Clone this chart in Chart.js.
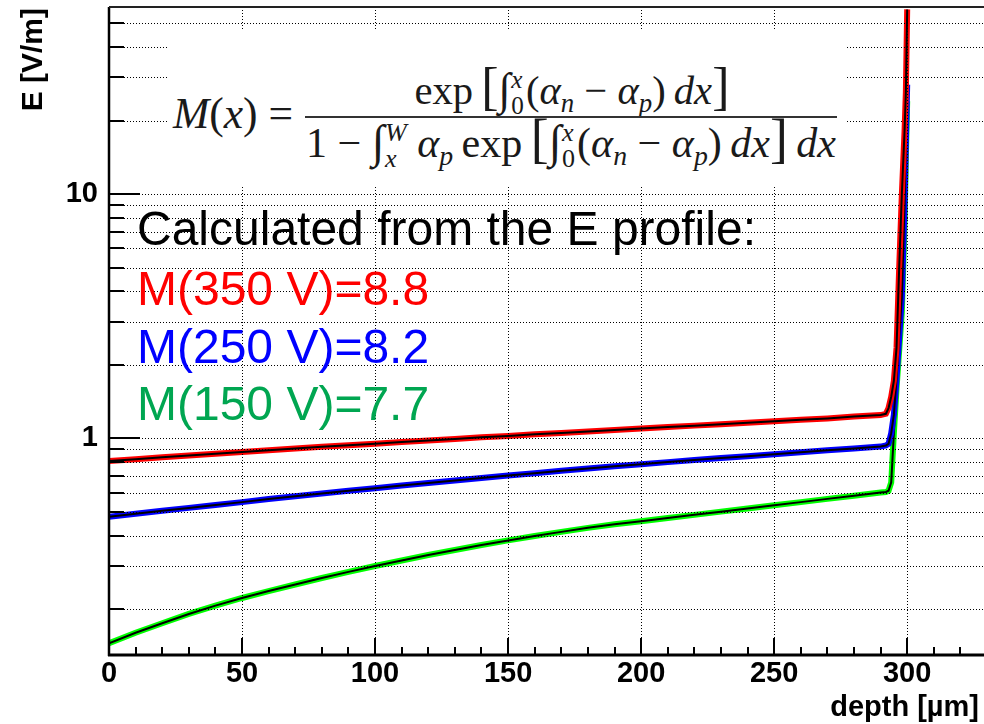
<!DOCTYPE html>
<html>
<head>
<meta charset="utf-8">
<script src="https://cdn.jsdelivr.net/npm/chart.js"></script>
<style>
  html, body { margin:0; padding:0; background:#fff; overflow:hidden; width:984px; height:724px; }
  #wrap { position:absolute; left:0; top:0; width:990px; height:724px; }
  canvas { display:block; }
  #fbox { position:absolute; left:167px; top:30px; width:678px; height:156px; background:#fff; z-index:2; }
  .m { position:absolute; left:0; top:0; font-family:'Liberation Serif','DejaVu Serif',serif; color:#1a1a1a; white-space:nowrap; line-height:1; z-index:3; }
  .m i { font-style:italic; }
  .m sub { font-size:0.66em; vertical-align:-0.28em; line-height:0; }
  .int { font-size:1.1em; display:inline-block; }
  .lims { display:inline-flex; flex-direction:column; font-size:0.62em; line-height:1.0; vertical-align:0.62em; margin-left:0.02em; margin-right:0.08em; }
  .big { font-size:1.28em; line-height:0; }
  .bl { display:inline-block; width:0; height:0; vertical-align:baseline; }
  #bar { position:absolute; left:305px; top:116px; width:532px; height:2px; background:#333; z-index:3; }
</style>
</head>
<body>
<div id="wrap"><canvas id="c" width="990" height="724" style="width:990px;height:724px"></canvas></div>
<div id="fbox"></div>
<div class="m" id="mx"><span class="bl"></span><i>M</i>(<i>x</i>) =</div>
<div class="m" id="num"><span class="bl"></span>exp&#8201;<span class="big">[</span><span class="int">∫</span><span class="lims"><i>x</i><span>0</span></span>(<i>α</i><sub><i>n</i></sub> − <i>α</i><sub><i>p</i></sub>)&#8201;<i>dx</i><span class="big">]</span></div>
<div id="bar"></div>
<div class="m" id="den"><span class="bl"></span>1 − <span class="int">∫</span><span class="lims"><i>W</i><i>x</i></span>&#8201;<i>α</i><sub><i>p</i></sub>&#8201;exp&#8201;<span class="big">[</span><span class="int">∫</span><span class="lims"><i>x</i><span>0</span></span>(<i>α</i><sub><i>n</i></sub> − <i>α</i><sub><i>p</i></sub>)&#8201;<i>dx</i><span class="big">]</span>&#8201;<i>dx</i></div>
<script>
// ---------------- data ----------------
const depth = [0,10,20,30,40,50,60,70,80,90,100,110,120,130,140,150,160,170,180,190,200,210,220,230,240,250,260,270,280,290,
               292,293,294,295,296,297,298,299,299.5,300];
const eRed350 = [0.807,0.821,0.836,0.850,0.865,0.879,0.893,0.908,0.923,0.936,0.951,0.965,0.979,0.994,1.009,1.023,1.038,1.052,1.067,1.081,
                 1.096,1.112,1.127,1.143,1.159,1.174,1.190,1.206,1.228,1.245,
                 1.26,1.33,1.48,1.72,2.35,5.0,10,18,26,57];
const eBlue250 = [0.477,0.491,0.505,0.519,0.533,0.548,0.564,0.579,0.594,0.610,0.625,0.641,0.656,0.672,0.688,0.704,0.720,0.737,0.753,0.768,
                  0.783,0.799,0.815,0.830,0.845,0.861,0.877,0.893,0.909,0.925,
                  0.935,0.95,1.05,1.25,1.75,2.6,3.8,9,16,28];
const eGreen150 = [0.1449,0.160,0.175,0.191,0.2065,0.222,0.237,0.252,0.268,0.284,0.300,0.316,0.333,0.349,0.366,0.382,0.398,0.414,0.430,0.445,
                   0.458,0.472,0.486,0.501,0.516,0.532,0.548,0.565,0.582,0.600,
                   0.603,0.61,0.66,1.05,1.6,2.3,3.3,7.5,14,24];

const xLabelTicks = [0,50,100,150,200,250,300];
const xMinorTicks = [10,20,30,40,60,70,80,90,110,120,130,140,160,170,180,190,210,220,230,240,260,270,280,290,310,320,330];
const xGridLines = [50,100,150,200,250,300];
const yTickValues = [0.2,0.3,0.4,0.5,0.6,0.7,0.8,0.9,1,2,3,4,5,6,7,8,9,10,20,30,40,50];
const yLabelValues = [1,10];
const xRange = [0,330];
const yRange = [0.1297,58.3];

const xTitle = 'depth [µm]';
const yTitle = 'E [V/m]';
const noteTitle = 'Calculated from the E profile:';
const noteLines = ['M(350 V)=8.8','M(250 V)=8.2','M(150 V)=7.7'];
const noteColors = ['#ff0000','#0000ff','#00a651'];

// ---------------- chart ----------------
function pts(vals){ return depth.map((d,i)=>({x:d, y:vals[i]})); }
function ds(vals, color, w, order){
  return { data: pts(vals), borderColor: color, borderWidth: w, pointRadius: 0, tension: 0, fill:false, order: order, borderJoinStyle:'miter' };
}

const rootStyle = {
  id: 'rootStyle',
  afterDatasetsDraw(chart){
    const {ctx, chartArea:a, scales:{x, y}} = chart;
    ctx.save();
    // dotted grid
    ctx.strokeStyle = '#000'; ctx.lineWidth = 1; ctx.setLineDash([1,2]);
    xGridLines.forEach(v=>{
      const px = Math.round(x.getPixelForValue(v)) + 0.5;
      ctx.beginPath(); ctx.moveTo(px, a.top); ctx.lineTo(px, a.bottom); ctx.stroke();
    });
    yTickValues.forEach(v=>{
      const py = Math.round(y.getPixelForValue(v)) + 0.5;
      ctx.beginPath(); ctx.moveTo(a.left, py); ctx.lineTo(a.right, py); ctx.stroke();
    });
    ctx.setLineDash([]);
    // inner tick marks
    ctx.strokeStyle = '#000'; ctx.lineWidth = 2;
    xLabelTicks.forEach(v=>{
      const px = Math.round(x.getPixelForValue(v));
      ctx.beginPath(); ctx.moveTo(px, a.bottom); ctx.lineTo(px, a.bottom - 17); ctx.stroke();
    });
    xMinorTicks.forEach(v=>{
      const px = Math.round(x.getPixelForValue(v));
      ctx.beginPath(); ctx.moveTo(px, a.bottom); ctx.lineTo(px, a.bottom - 8); ctx.stroke();
    });
    yTickValues.forEach(v=>{
      const py = Math.round(y.getPixelForValue(v));
      const len = yLabelValues.includes(v) ? 31 : 15;
      ctx.beginPath(); ctx.moveTo(a.left, py); ctx.lineTo(a.left + len, py); ctx.stroke();
    });
    // frame
    ctx.strokeStyle = '#000';
    ctx.lineWidth = 3;
    ctx.beginPath(); ctx.moveTo(a.left - 1, a.bottom); ctx.lineTo(a.right + 2, a.bottom); ctx.stroke();
    ctx.lineWidth = 2.5;
    ctx.beginPath(); ctx.moveTo(a.left, a.top); ctx.lineTo(a.left, a.bottom + 1); ctx.stroke();
    ctx.lineWidth = 2; ctx.strokeStyle = '#222';
    ctx.beginPath(); ctx.moveTo(a.left, a.top); ctx.lineTo(a.right + 2, a.top); ctx.stroke();
    // annotation text
    ctx.textAlign = 'left'; ctx.textBaseline = 'alphabetic';
    ctx.font = '48px "Liberation Sans", Arial, sans-serif';
    ctx.fillStyle = '#000';
    ctx.fillText(noteTitle, 137, 245);
    noteLines.forEach((t,i)=>{
      ctx.fillStyle = noteColors[i];
      ctx.fillText(t, 137, 305 + i*57.5);
    });
    // axis titles
    ctx.fillStyle = '#000';
    ctx.font = 'bold 29px "Liberation Sans", Arial, sans-serif';
    ctx.textAlign = 'right';
    ctx.fillText(xTitle, 979, 716);
    ctx.save();
    ctx.translate(42, 8);
    ctx.rotate(-Math.PI/2);
    ctx.font = 'bold 30px "Liberation Sans", Arial, sans-serif';
    ctx.textAlign = 'right';
    ctx.fillText(yTitle, 0, 0);
    ctx.restore();
    ctx.restore();
  }
};

const tickFont = { family: '"Liberation Sans", Arial, sans-serif', weight: 'bold', size: 29 };

new Chart(document.getElementById('c'), {
  type: 'line',
  data: {
    datasets: [
      ds(eGreen150, '#00ff00', 6, 6),
      ds(eGreen150, '#000000', 2, 5),
      ds(eBlue250, '#0000ff', 6, 4),
      ds(eBlue250, '#000000', 2, 3),
      ds(eRed350, '#ff0000', 6, 2),
      ds(eRed350, '#000000', 2, 1)
    ]
  },
  options: {
    responsive: false,
    maintainAspectRatio: false,
    devicePixelRatio: 1,
    animation: false,
    events: [],
    layout: { padding: { left: 0, right: 3, top: 7, bottom: 0 } },
    plugins: { legend: { display: false }, tooltip: { enabled: false } },
    scales: {
      x: {
        type: 'linear', min: xRange[0], max: xRange[1],
        afterBuildTicks: s => { s.ticks = xLabelTicks.map(v => ({ value: v })); },
        afterFit: s => { s.height = 69; s.paddingLeft = 0; s.paddingRight = 0; },
        grid: { display: false, drawTicks: false },
        border: { display: false },
        ticks: { font: tickFont, color: '#000', padding: 2, maxRotation: 0, autoSkip: false,
                 callback: v => String(v) }
      },
      y: {
        type: 'logarithmic', min: yRange[0], max: yRange[1],
        afterBuildTicks: s => { s.ticks = yTickValues.map(v => ({ value: v })); },
        afterFit: s => { s.width = 109; s.paddingTop = 0; s.paddingBottom = 0; },
        grid: { display: false, drawTicks: false },
        border: { display: false },
        ticks: { font: tickFont, color: '#000', padding: 11, autoSkip: false,
                 callback: v => (yLabelValues.includes(v) ? String(v) : '') }
      }
    }
  },
  plugins: [rootStyle]
});

// ---------------- formula layout ----------------
function place(el, opt){
  const base = 32;
  el.style.fontSize = base + 'px';
  el.style.left = '0px'; el.style.top = '0px';
  let w = el.getBoundingClientRect().width;
  el.style.fontSize = (base * opt.width / w) + 'px';
  const r = el.getBoundingClientRect();
  const m = el.querySelector('.bl').getBoundingClientRect();
  const off = m.top - r.top;
  el.style.top = (opt.baseline - off) + 'px';
  el.style.left = (opt.left !== undefined ? opt.left : opt.center - r.width / 2) + 'px';
}
place(document.getElementById('mx'),  { left: 173, baseline: 128, width: 120 });
place(document.getElementById('num'), { center: 572, baseline: 104, width: 315 });
place(document.getElementById('den'), { center: 571, baseline: 157, width: 530 });
</script>
</body>
</html>
